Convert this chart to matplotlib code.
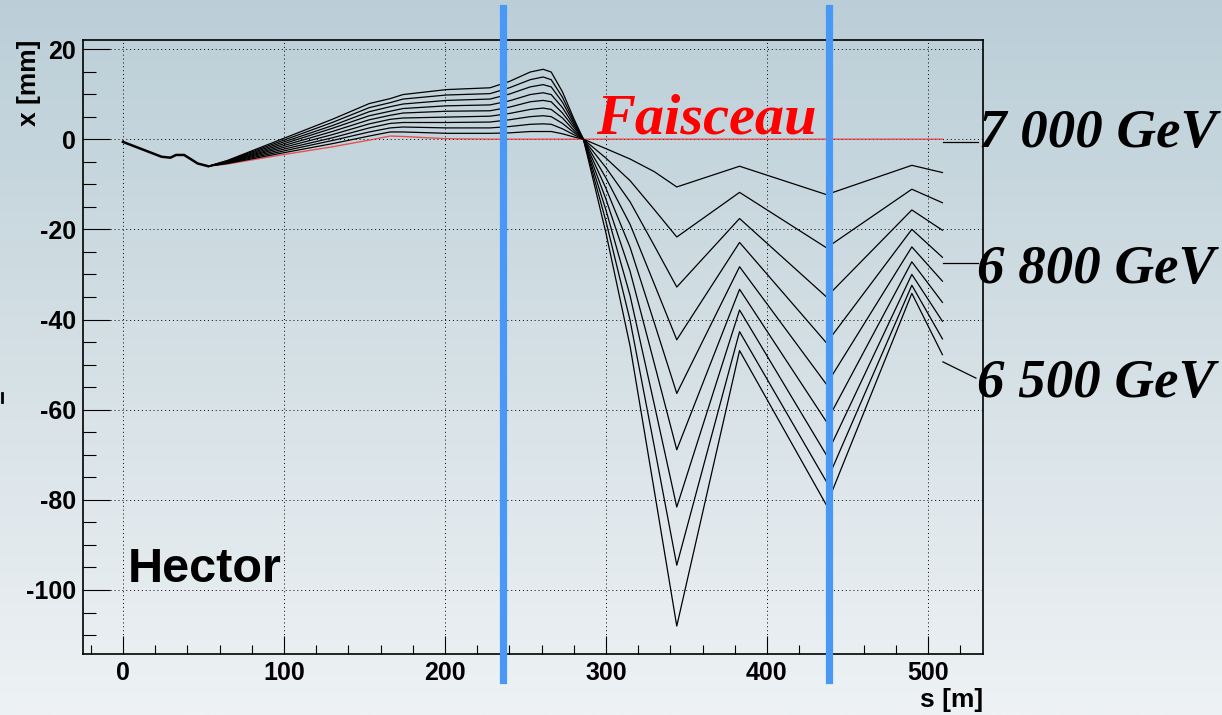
import numpy as np
import matplotlib.pyplot as plt
from matplotlib.ticker import MultipleLocator
from matplotlib.lines import Line2D

plt.rcParams['font.family'] = ['Liberation Sans', 'DejaVu Sans']
plt.rcParams['axes.unicode_minus'] = False

# common part of all trajectories (s in m, x in mm)
s_common = [0, 24, 29.5, 33, 38, 46.5, 53]
x_common = [-0.6, -3.9, -4.1, -3.5, -3.5, -5.4, -6.0]

# nominal beam (red)
s_beam = [53, 65, 100, 130, 153, 166, 174, 201, 228, 509]
x_beam = [-6.0, -5.5, -3.4, -1.7, -0.2, 0.7, 0.6, 0.1, 0.0, 0.0]

# off-energy trajectories, read at these s positions
s_knots = [53, 65, 100, 130, 153, 166, 174, 201, 228, 240, 253, 261, 266, 273,
           280, 286, 300, 315, 330, 344, 383, 437, 490, 509]
track1 = [-6.0, -5.4, -3.0, -1.0, 0.7, 1.6, 1.6, 1.3, 1.3, 1.4, 1.7, 1.7, 1.7, 1.2,
          0.5, 0.0, -2.1, -4.4, -7.2, -10.6, -6.0, -12.3, -5.8, -7.4]
track2 = [-6.0, -5.3, -2.6, -0.3, 1.6, 2.5, 2.7, 2.5, 2.5, 2.8, 3.3, 3.4, 3.3, 2.3,
          1.0, 0.0, -4.2, -9.2, -15.6, -21.7, -11.8, -24.1, -11.1, -14.1]
track3 = [-6.0, -5.2, -2.2, 0.3, 2.5, 3.5, 3.7, 3.7, 3.8, 4.3, 5.0, 5.2, 5.0, 3.5,
          1.5, 0.0, -6.3, -13.9, -23.6, -32.8, -17.6, -35.0, -15.7, -20.2]
track4 = [-6.0, -5.1, -1.8, 1.0, 3.4, 4.4, 4.7, 4.9, 5.1, 5.7, 6.6, 6.9, 6.6, 4.7,
          2.0, 0.0, -8.6, -18.9, -32.1, -44.5, -22.9, -45.2, -20.0, -26.2]
track5 = [-6.0, -5.1, -1.4, 1.7, 4.3, 5.3, 5.8, 6.2, 6.3, 7.1, 8.3, 8.6, 8.3, 5.8,
          2.6, 0.0, -10.9, -24.0, -40.7, -56.4, -28.3, -54.4, -23.9, -31.5]
track6 = [-6.0, -5.0, -1.0, 2.4, 5.2, 6.2, 6.8, 7.4, 7.6, 8.5, 9.9, 10.3, 9.9, 7.0,
          3.1, 0.0, -13.3, -29.3, -49.7, -68.9, -33.3, -62.7, -27.2, -36.2]
track7 = [-6.0, -4.9, -0.6, 3.0, 6.1, 7.2, 7.8, 8.6, 8.9, 10.0, 11.6, 12.1, 11.6, 8.2,
          3.6, 0.0, -15.7, -34.7, -58.8, -81.6, -37.9, -70.1, -30.0, -40.4]
track8 = [-6.0, -4.8, -0.2, 3.7, 7.0, 8.1, 8.9, 9.8, 10.1, 11.4, 13.2, 13.8, 13.2, 9.3,
          4.1, 0.0, -18.2, -40.2, -68.1, -94.5, -42.7, -76.0, -32.4, -44.3]
track9 = [-6.0, -4.7, 0.2, 4.4, 7.9, 9.0, 9.9, 11.0, 11.4, 12.8, 14.9, 15.5, 14.9, 10.5,
          4.6, 0.0, -20.8, -45.9, -77.9, -108.0, -46.9, -81.2, -34.2, -47.8]
tracks = [track1, track2, track3, track4, track5, track6, track7, track8, track9]

# detector positions (blue lines)
detectors = [236.3, 438.5]

energy_labels = ["7 000 GeV", "6 800 GeV", "6 500 GeV"]

W, H = 1222, 715
fig = plt.figure(figsize=(W / 100, H / 100), dpi=100)

# gradient background like the ROOT canvas
bg = fig.add_axes([0, 0, 1, 1], zorder=-10)
top = np.array([187, 206, 215]) / 255
bot = np.array([238, 242, 244]) / 255
t = np.linspace(0, 1, 256)[:, None]
grad = top + (bot - top) * t
bg.imshow(grad[:, None, :], aspect='auto', extent=[0, 1, 0, 1], origin='upper')
bg.axis('off')

ax = fig.add_axes([83 / W, 1 - 654 / H, 900 / W, 614 / H])
ax.set_facecolor('none')

ax.plot(s_common, x_common, color='black', lw=1.8, zorder=3)
ax.plot(s_beam, x_beam, color='#f03030', lw=1.0, alpha=0.8, zorder=2)
for tr in tracks:
    ax.plot(s_knots, tr, color='black', lw=0.9, zorder=3)

for d in detectors:
    ax.axvline(d, ymin=(654 - 680) / 614, ymax=(654 - 8) / 614, color='#4a98f5',
               lw=5.2, clip_on=False, zorder=4)

ax.set_xlim(-24.8, 534.2)
ax.set_ylim(-114.2, 22.0)
ax.xaxis.set_major_locator(MultipleLocator(100))
ax.xaxis.set_minor_locator(MultipleLocator(20))
ax.yaxis.set_major_locator(MultipleLocator(20))
ax.yaxis.set_minor_locator(MultipleLocator(5))
ax.grid(True, which='major', color='black', linestyle=(0, (1, 3)), linewidth=0.7)
ax.tick_params(which='both', direction='in', top=False, right=False, width=0.8,
               labelsize=18)
ax.xaxis.set_tick_params(which='major', length=13, pad=5)
ax.xaxis.set_tick_params(which='minor', length=6.5)
ax.yaxis.set_tick_params(which='major', length=19.5, pad=5)
ax.yaxis.set_tick_params(which='minor', length=9.5)
for lbl in ax.get_xticklabels() + ax.get_yticklabels():
    lbl.set_fontweight('bold')
for sp in ax.spines.values():
    sp.set_linewidth(1.2)

# axis titles
fig.text(983 / W, 1 - 700 / H, 's [m]', ha='right', va='center', fontsize=19,
         fontweight='bold')
fig.text(29 / W, 1 - 40 / H, 'x [mm]', rotation=90, ha='center', va='top',
         fontsize=19, fontweight='bold')

# label pointers
ax.plot([509.3, 531.1], [-0.7, -0.7], color='black', lw=0.9, clip_on=False)
ax.plot([509.3, 531.1], [-27.5, -27.5], color='black', lw=0.9, clip_on=False)
ax.plot([509.3, 529.8], [-49.4, -53.0], color='black', lw=0.9, clip_on=False)

serif = dict(family=['Liberation Serif', 'DejaVu Serif'], fontweight='bold',
             style='italic', va='baseline')
fig.text(979 / W, 1 - 147 / H, energy_labels[0], color='black', fontsize=39.5, **serif)
fig.text(977 / W, 1 - 283 / H, energy_labels[1], color='black', fontsize=39.5, **serif)
fig.text(977 / W, 1 - 397 / H, energy_labels[2], color='black', fontsize=39.5, **serif)
fig.text(596 / W, 1 - 133 / H, 'Faisceau', color='red', fontsize=42, **serif)

fig.text(128 / W, 1 - 582 / H, 'Hector', fontsize=35, fontweight='bold',
         va='baseline')

# small stray mark on the left edge
fig.add_artist(Line2D([2 / W, 2 / W], [1 - 393 / H, 1 - 402 / H], color='black', lw=2))

fig.savefig('out.png', dpi=100)
